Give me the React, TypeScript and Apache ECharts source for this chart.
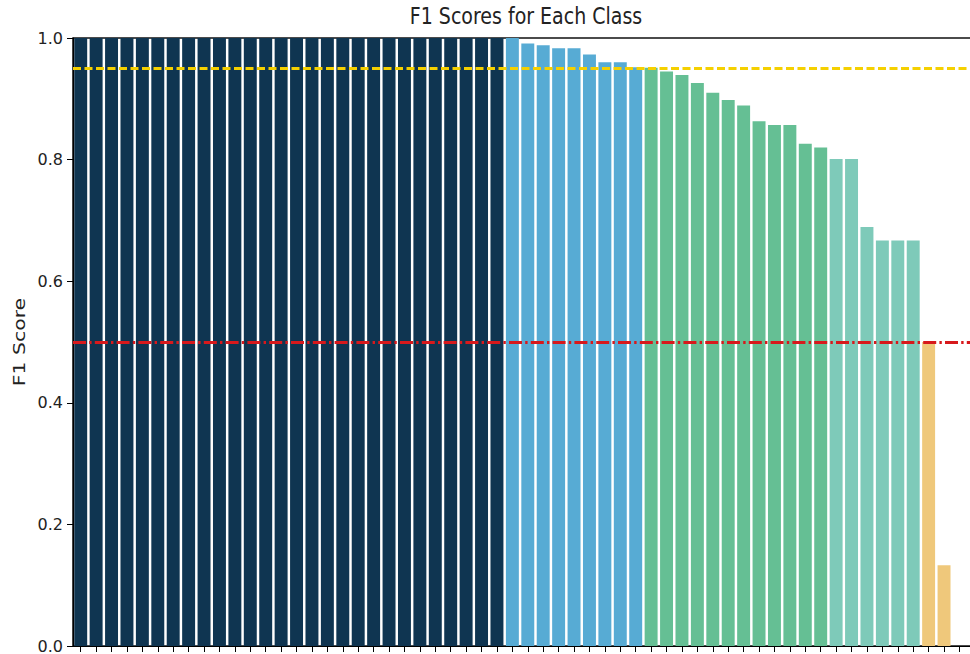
import React, { useEffect, useRef } from "react";
import * as echarts from "echarts";

// ---- data ----
const darkScores = [
  1, 1, 1, 1, 1, 1, 1, 1, 1, 1, 1, 1, 1, 1,
  1, 1, 1, 1, 1, 1, 1, 1, 1, 1, 1, 1, 1, 1,
];
const blueScores = [1.0, 0.991, 0.988, 0.983, 0.983, 0.973, 0.96, 0.96, 0.952];
const greenScores = [0.951, 0.945, 0.939, 0.926, 0.91, 0.898, 0.889, 0.863, 0.857, 0.857, 0.826, 0.82];
const tealScores = [0.801, 0.801, 0.689, 0.667, 0.667, 0.667];
const orangeScores = [0.5, 0.133];
const zeroScores = [0, 0, 0];

const yTicks = [0, 0.2, 0.4, 0.6, 0.8, 1.0];
const goodThreshold = 0.95;
const minThreshold = 0.5;

const groups = [
  { values: darkScores, color: "#0f3551" },
  { values: blueScores, color: "#57abd4" },
  { values: greenScores, color: "#65bf94" },
  { values: tealScores, color: "#7ecab9" },
  { values: orangeScores, color: "#efc87b" },
  { values: zeroScores, color: "#efc87b" },
];

const TEXT = "#222222";
const FONT = "'DejaVu Sans', 'Liberation Sans', sans-serif";

export default function App() {
  const ref = useRef<HTMLDivElement>(null);

  useEffect(() => {
    if (!ref.current) return;
    const chart = echarts.init(ref.current, undefined, { renderer: "svg" });

    const items: any[] = [];
    groups.forEach((g) =>
      g.values.forEach((v) => items.push({ value: v, itemStyle: { color: g.color } }))
    );
    const categories = items.map((_, i) => "Class " + (i + 1));

    chart.setOption({
      animation: false,
      backgroundColor: "#ffffff",
      grid: {
        left: 73,
        top: 38,
        height: 608,
        width: 925,
        outerBoundsMode: "none",
        show: true,
        borderColor: "#111111",
        borderWidth: 1.5,
        backgroundColor: "transparent",
      },
      graphic: [
        {
          type: "text",
          x: 526,
          y: 16,
          scaleY: 1.2,
          style: {
            text: "F1 Scores for Each Class",
            font: "19px " + FONT,
            fill: TEXT,
            align: "center",
            verticalAlign: "middle",
            textAlign: "center",
            textVerticalAlign: "middle",
          },
        },
        {
          type: "text",
          x: 20,
          y: 342,
          rotation: Math.PI / 2,
          scaleX: 1.36,
          style: {
            text: "F1 Score",
            font: "15px " + FONT,
            fill: TEXT,
            align: "center",
            verticalAlign: "middle",
            textAlign: "center",
            textVerticalAlign: "middle",
          },
        },
      ],
      xAxis: {
        type: "category",
        data: categories,
        boundaryGap: true,
        axisLine: { show: true, lineStyle: { color: "#000000", width: 1.2 } },
        axisTick: {
          show: true,
          alignWithLabel: true,
          interval: 0,
          length: 6,
          lineStyle: { color: "#000000", width: 1 },
        },
        axisLabel: { show: false },
        splitLine: { show: false },
      },
      yAxis: {
        type: "value",
        min: yTicks[0],
        max: yTicks[yTicks.length - 1],
        interval: 0.2,
        axisLine: { show: true, lineStyle: { color: "#000000", width: 1.2 } },
        axisTick: { show: true, length: 6, lineStyle: { color: "#000000", width: 1 } },
        axisLabel: {
          margin: 10,
          color: TEXT,
          fontFamily: FONT,
          fontSize: 16,
          formatter: (v: number) => v.toFixed(1),
        },
        splitLine: { show: false },
      },
      series: [
        {
          type: "bar",
          data: items,
          barCategoryGap: "16%",
          markLine: {
            silent: true,
            symbol: "none",
            label: { show: false },
            data: [
              {
                yAxis: goodThreshold,
                lineStyle: { color: "#f5d000", width: 2.8, type: [8, 3.5] },
              },
              {
                yAxis: minThreshold,
                lineStyle: { color: "#d7191c", width: 2.8, type: [13, 3.2, 2.4, 3.2] },
              },
            ],
          },
        },
      ],
    });

    return () => chart.dispose();
  }, []);

  return (
    <div
      style={{
        position: "fixed",
        left: 0,
        top: 0,
        width: 970,
        height: 654,
        overflow: "hidden",
        background: "#fff",
      }}
    >
      <div ref={ref} style={{ width: 1000, height: 654 }} />
    </div>
  );
}
